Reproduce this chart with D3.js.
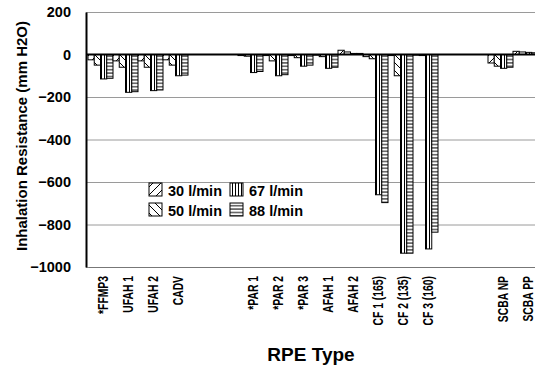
<!DOCTYPE html>
<html>
<head>
<meta charset="utf-8">
<script src="https://cdn.jsdelivr.net/npm/d3@7"></script>
<style>
  body { margin: 0; background: #fff; }
  svg { display: block; font-family: Arial, "Liberation Sans", Helvetica, sans-serif; font-weight: bold; }
</style>
</head>
<body>
<div id="chart"></div>
<script>
// slots; empty strings are gaps in the category axis
const categories = ["*FFMP3", "UFAH 1", "UFAH 2", "CADV", "", "", "*PAR 1", "*PAR 2", "*PAR 3",
  "AFAH 1", "AFAH 2", "CF 1 (165)", "CF 2 (135)", "CF 3 (160)", "", "", "SCBA NP", "SCBA PP"];
const seriesNames = ["30 l/min", "50 l/min", "67 l/min", "88 l/min"];
const flow30 = [-25, -30, -30, -25, null, null, -5, -5, -5, -3, 20, -10, -5, -3, null, null, -40, 15];
const flow50 = [-50, -60, -60, -50, null, null, -8, -30, -15, -10, 12, -20, -100, -5, null, null, -55, 12];
const flow67 = [-115, -178, -170, -100, null, null, -85, -100, -55, -65, 5, -660, -935, -915, null, null, -65, 10];
const flow88 = [-112, -175, -167, -97, null, null, -80, -95, -50, -60, 5, -697, -935, -836, null, null, -60, 8];
const yTicks = [200, 0, -200, -400, -600, -800, -1000];

const seriesValues = [flow30, flow50, flow67, flow88];
const width = 535, height = 383;
const margin = {left: 86, top: 12, right: 0, bottom: 116};

const svg = d3.select("#chart").append("svg")
  .attr("width", width).attr("height", height);

// fill patterns
const defs = svg.append("defs");
function makePattern(id, w, h, d) {
  const p = defs.append("pattern").attr("id", id)
    .attr("patternUnits", "userSpaceOnUse")
    .attr("width", w).attr("height", h);
  p.append("rect").attr("width", w).attr("height", h).attr("fill", "#fff");
  p.append("path").attr("d", d).attr("stroke", "#000").attr("stroke-width", 1).attr("fill", "none");
}
makePattern("p0", 8, 8, "M0,8L8,0M-2,2L2,-2M6,10L10,6");
makePattern("p1", 8, 8, "M0,0L8,8M-2,6L2,10M6,-2L10,2");
makePattern("p2", 3, 4, "M1.5,0V4");
makePattern("p3", 4, 3.4, "M0,1.7H4");

const x0 = d3.scaleBand()
  .domain(d3.range(categories.length))
  .range([88, 538])
  .padding(0);
const x1 = d3.scaleBand()
  .domain(d3.range(seriesNames.length))
  .range([0, x0.bandwidth()])
  .padding(0);
const y = d3.scaleLinear()
  .domain([-1000, 200])
  .range([height - margin.bottom, margin.top]);

// gridlines
svg.append("g")
  .attr("transform", `translate(${margin.left},0)`)
  .call(d3.axisLeft(y).tickValues(yTicks.filter(d => d !== 0)).tickSize(-(width - margin.left)).tickFormat(""))
  .call(g => g.select(".domain").remove())
  .call(g => g.selectAll("line").attr("stroke", "#9a9a9a").attr("stroke-width", 1));

// bars
const groups = svg.append("g").selectAll("g")
  .data(categories.map((c, i) => i).filter(i => flow30[i] !== null))
  .join("g")
  .attr("transform", i => `translate(${x0(i)},0)`);

groups.selectAll("rect")
  .data(i => seriesValues.map((vals, s) => ({s, v: vals[i]})))
  .join("rect")
  .attr("x", d => x1(d.s))
  .attr("width", x1.bandwidth())
  .attr("y", d => y(Math.max(0, d.v)))
  .attr("height", d => Math.abs(y(d.v) - y(0)))
  .attr("fill", d => `url(#p${d.s})`)
  .attr("stroke", "#000")
  .attr("stroke-width", 1);

// zero line
svg.append("line")
  .attr("x1", margin.left).attr("x2", width)
  .attr("y1", y(0)).attr("y2", y(0))
  .attr("stroke", "#000").attr("stroke-width", 2);

// y axis
svg.append("g")
  .attr("transform", `translate(${margin.left},0)`)
  .call(d3.axisLeft(y).tickValues(yTicks).tickFormat(d3.format("d")).tickSize(0).tickPadding(15))
  .call(g => g.select(".domain").attr("stroke", "#000").attr("stroke-width", 2))
  .call(g => g.selectAll("text").attr("font-size", "14.5px").attr("font-weight", "bold")
    .attr("font-family", "Arial, 'Liberation Sans', sans-serif").attr("fill", "#000"));

// x axis
svg.append("g")
  .attr("transform", `translate(0,${y(-1000)})`)
  .call(d3.axisBottom(x0).tickSize(0).tickFormat(i => categories[i]))
  .call(g => g.select(".domain").attr("stroke", "#777").attr("stroke-width", 1))
  .call(g => g.selectAll("text")
    .attr("font-size", "15px").attr("font-weight", "bold")
    .attr("font-family", "Arial, 'Liberation Sans', sans-serif").attr("fill", "#000")
    .attr("text-anchor", "end")
    .attr("x", 0).attr("y", 0).attr("dy", "0.35em")
    .attr("transform", "translate(2,9) rotate(-90) scale(0.69,1)"));

// legend
const legend = svg.append("g");
const legendPos = [[149, 190], [149, 210], [230, 190], [230, 210]];
seriesNames.forEach((name, s) => {
  const [lx, ly] = legendPos[s];
  legend.append("rect")
    .attr("x", lx).attr("y", ly - 7).attr("width", 13).attr("height", 13)
    .attr("fill", `url(#p${s})`).attr("stroke", "#000").attr("stroke-width", 1);
  legend.append("text")
    .attr("x", lx + 19).attr("y", ly + 6)
    .attr("font-size", "14.5px")
    .text(name);
});

// axis titles
svg.append("text")
  .attr("transform", "translate(22,136) rotate(-90)")
  .attr("text-anchor", "middle").attr("dy", "0.35em")
  .attr("font-size", "15px")
  .text("Inhalation Resistance (mm H2O)");

svg.append("text")
  .attr("x", 311).attr("y", 361)
  .attr("text-anchor", "middle")
  .attr("font-size", "19px")
  .text("RPE Type");
</script>
</body>
</html>
